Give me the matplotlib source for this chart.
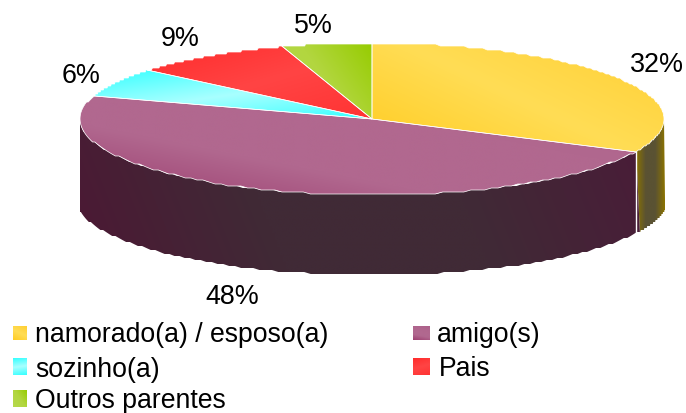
import numpy as np
import matplotlib
matplotlib.use('Agg')
import matplotlib.pyplot as plt
from matplotlib.colors import to_rgb
from matplotlib.patches import Polygon

plt.rcParams['font.family'] = ['Liberation Sans', 'DejaVu Sans']

categories = ['namorado(a) / esposo(a)', 'amigo(s)', 'sozinho(a)', 'Pais', 'Outros parentes']
values = [32, 48, 6, 9, 5]

top_colors = [['#FFCC22', '#FFDD55', '#FFCF33'],
              ['#AC608A', '#B1688F', '#B1688F', '#9C3F70'],
              ['#33FFFF', '#A8FFFF', '#33FFFF'],
              ['#FF2C2C', '#FF4444', '#FF3333'],
              ['#96CC00', '#B2D63F', '#B6D94E']]
top_dirs = [(0.43, -0.9), (-0.2, 1), (0.14, 1), (0.3, 1), (-1, 0.7)]

# pie geometry in pixels
cx, cy = 372, 119
rx, ry = 292, 76
depth = 80
x_min, x_max = 80, 665

# label centre x and baseline y
label_pos = [(657, 72), (232.5, 304), (81.5, 83), (180, 46), (313, 33)]
# legend boxes: left, top, width, height
legend_box = [(13, 326, 14, 14), (413, 326, 17, 14), (13, 358, 14, 17), (413, 358, 17, 17), (13, 390, 14, 17)]
legend_text = [(35, 342), (437, 342), (35, 377), (439, 376), (35, 408)]


def gradient_fill(ax, verts, stops, direction, zorder=2):
    # paint a linear gradient and clip it to the polygon
    x0, y0 = verts.min(axis=0)
    x1, y1 = verts.max(axis=0)
    xx, yy = np.meshgrid(np.linspace(x0, x1, 200), np.linspace(y0, y1, 200))
    proj = xx * direction[0] + yy * direction[1]
    t = (proj - proj.min()) / (proj.max() - proj.min())
    rgb = np.array([to_rgb(c) for c in stops])
    pos = np.linspace(0, 1, len(stops))
    img = np.dstack([np.interp(t, pos, rgb[:, i]) for i in range(3)])
    im = ax.imshow(img, extent=(x0, x1, y1, y0), aspect='auto', zorder=zorder,
                   interpolation='bilinear')
    poly = Polygon(verts, closed=True, transform=ax.transData)
    im.set_clip_path(poly)


def arc(t0, t1, r_x, r_y, y_c):
    t = np.radians(np.linspace(t0, t1, 120))
    pts = np.column_stack([cx + r_x * np.cos(t), y_c - r_y * np.sin(t)])
    # the rim of the original is a bit stepped
    pts[:, 1] = np.round(pts[:, 1] / 2) * 2
    return pts


fig = plt.figure(figsize=(6.86, 4.13), dpi=100)
ax = fig.add_axes([0, 0, 1, 1])

# slice angles, clockwise from the top
ends = 90 - np.cumsum(values) * 3.6
starts = np.concatenate([[90], ends[:-1]])

# side walls, only the visible front part
wall_right = np.vstack([arc(starts[1], 0, rx, ry, cy), arc(0, starts[1], rx + 4, ry, cy + depth)])
wall_right[:, 0] = np.clip(wall_right[:, 0], x_min, x_max)
wall_front = np.vstack([arc(starts[1], -180, rx, ry, cy), arc(-180, starts[1], rx + 4, ry, cy + depth)])
wall_front[:, 0] = np.clip(wall_front[:, 0], x_min, x_max)
gradient_fill(ax, wall_right, ['#8C7400', '#5A5233', '#5A5233', '#8C7400'], (1, 0), zorder=1)
gradient_fill(ax, wall_front, ['#4C1834', '#402A36', '#402A36', '#4A1C38'], (1, -0.4), zorder=1)
ax.plot([wall_front[0, 0] - 0.5] * 2, [cy + 33, cy + 113], color='white', lw=1, zorder=1.5)

# top faces
for i in range(len(values)):
    verts = np.vstack([[cx, cy], arc(starts[i], ends[i], rx, ry, cy)])
    gradient_fill(ax, verts, top_colors[i], top_dirs[i])
    ax.add_patch(Polygon(verts, closed=True, fill=False, edgecolor='white', lw=0.5, zorder=3))
    ax.text(label_pos[i][0], label_pos[i][1], '%d%%' % values[i], fontsize=19.4,
            ha='center', va='baseline', color='black', zorder=5)

# legend
for i, name in enumerate(categories):
    x, y, w, h = legend_box[i]
    box = np.array([[x, y], [x + w, y], [x + w, y + h], [x, y + h]], dtype=float)
    gradient_fill(ax, box, top_colors[i], top_dirs[i])
    ax.text(legend_text[i][0], legend_text[i][1], name, fontsize=19.2,
            ha='left', va='baseline', color='black')

ax.set_xlim(0, 686)
ax.set_ylim(413, 0)
ax.axis('off')

plt.savefig('out.png', dpi=100)
